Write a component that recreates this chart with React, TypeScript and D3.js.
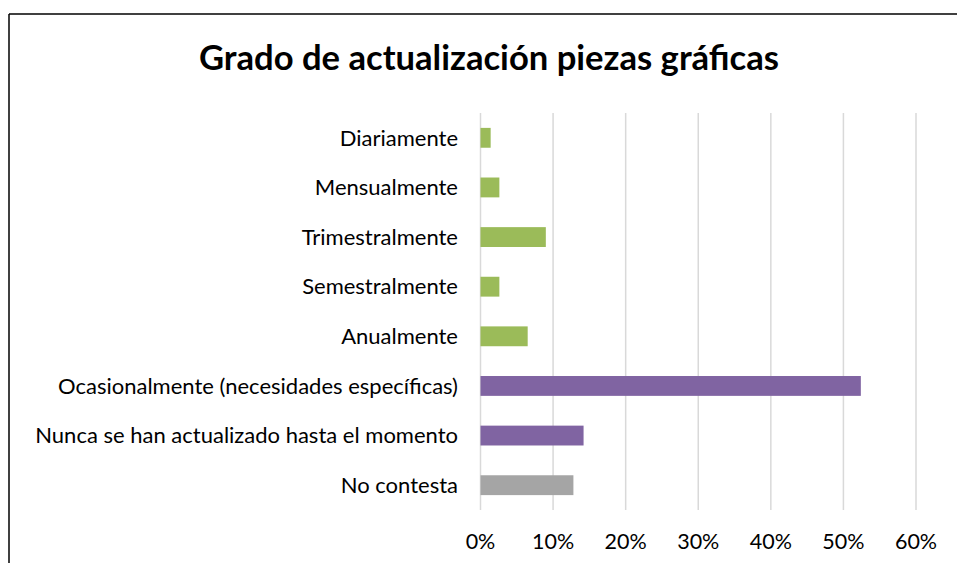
import React from "react";
import * as d3 from "d3";

const categories = [
  "Diariamente",
  "Mensualmente",
  "Trimestralmente",
  "Semestralmente",
  "Anualmente",
  "Ocasionalmente (necesidades específicas)",
  "Nunca se han actualizado hasta el momento",
  "No contesta",
];
const values = [0.014, 0.026, 0.09, 0.026, 0.065, 0.524, 0.142, 0.128];
const colorGroups = ["g", "g", "g", "g", "g", "p", "p", "n"];
const ticks = [0, 0.1, 0.2, 0.3, 0.4, 0.5, 0.6];
const title = "Grado de actualización piezas gráficas";

const palette: Record<string, string> = { g: "#9BBB59", p: "#8064A2", n: "#A5A5A5" };
const FONT = "Lato, 'Open Sans', sans-serif";

export default function App() {
  const W = 957, H = 563;
  const x = d3.scaleLinear().domain([0, 0.6]).range([480.5, 916]);
  const y = d3.scaleBand<string>().domain(categories).range([113, 510]).paddingInner(0.6).paddingOuter(0.3);
  const fmt = d3.format(".0%");
  return (
    <svg width={W} height={H} style={{ position: "absolute", left: 0, top: 0, background: "#fff" }}>
      <rect x={0} y={0} width={W} height={H} fill="#fff" />
      <line x1={9} x2={9} y1={14} y2={H} stroke="#000" strokeWidth={1.5} />
      <line x1={9} x2={W} y1={14} y2={14} stroke="#000" strokeWidth={1.5} />
      <text x={489} y={70} textAnchor="middle" fontFamily={FONT} fontWeight="bold" fontSize={34} fill="#000" textLength={580} lengthAdjust="spacingAndGlyphs">
        {title}
      </text>
      {ticks.map((t) => (
        <g key={t}>
          <line x1={x(t)} x2={x(t)} y1={113} y2={510} stroke="#D9D9D9" strokeWidth={1.5} />
          <text x={x(t)} y={549} textAnchor="middle" fontFamily={FONT} fontSize={21.5} fill="#000">
            {fmt(t)}
          </text>
        </g>
      ))}
      {categories.map((c, i) => (
        <g key={c}>
          <rect x={x(0)} y={y(c)!} width={x(values[i]) - x(0)} height={y.bandwidth()} fill={palette[colorGroups[i]]} />
          <text x={458} y={y(c)! + y.bandwidth() / 2} dy="0.35em" textAnchor="end" fontFamily={FONT} fontSize={22} fill="#000">
            {c}
          </text>
        </g>
      ))}
    </svg>
  );
}
